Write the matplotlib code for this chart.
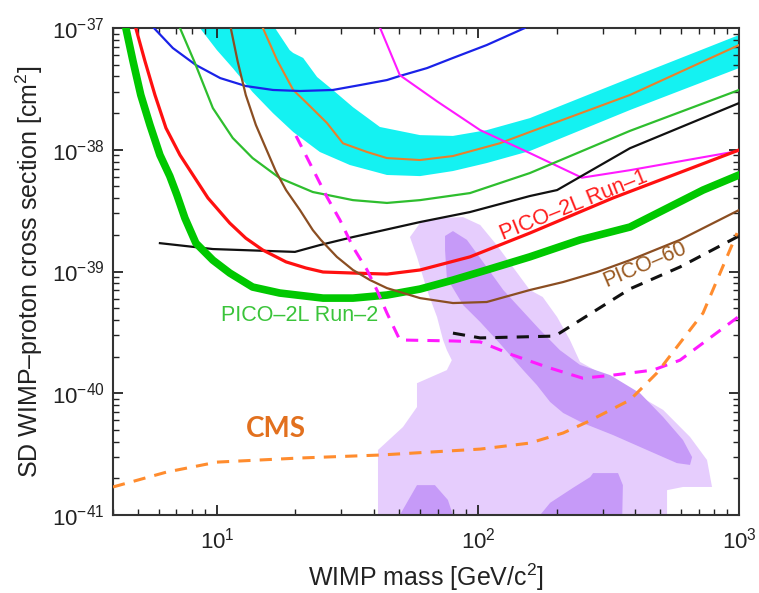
import matplotlib
matplotlib.use("Agg")
import matplotlib.pyplot as plt
from matplotlib.ticker import NullFormatter, FixedLocator

plt.rcParams['font.family'] = ['Liberation Sans', 'DejaVu Sans']
plt.rcParams['mathtext.fontset'] = 'custom'
plt.rcParams['mathtext.rm'] = 'Liberation Sans'
plt.rcParams['mathtext.it'] = 'Liberation Sans:italic'

# ---- data: WIMP mass [GeV] and cross section [cm^2] ----
band_low_m = [8.61, 10, 11.5, 13.7, 16.4, 19.6, 24.8, 32.3, 44.8, 60, 80.2, 108, 158, 382, 1000]
band_low_s = [1e-37, 6.59e-38, 4.69e-38, 2.98e-38, 2.0e-38, 1.4e-38, 9.59e-39, 7.5e-39,
              6.21e-39, 6.08e-39, 6.69e-39, 7.78e-39, 9.77e-39, 2.12e-38, 4.69e-38]
band_up_m = [16.7, 19.0, 19.6, 21.4, 24.2, 27.8, 33.2, 42.1, 60, 80.2, 108, 158, 382, 1000]
band_up_s = [1e-37, 6.59e-38, 6.24e-38, 5.68e-38, 3.96e-38, 3.1e-38, 2.24e-38, 1.54e-38,
             1.32e-38, 1.3e-38, 1.45e-38, 1.82e-38, 3.88e-38, 8.77e-38]

band_mid_m = [15.0, 17.0, 19.6, 22.1, 26.4, 30.4, 37.6, 44.8, 60, 80.2, 121, 158, 382, 1000]
band_mid_s = [1e-37, 5.46e-38, 3.1e-38, 2.42e-38, 1.66e-38, 1.13e-38, 9.59e-39, 8.55e-39,
              8.24e-39, 8.89e-39, 1.13e-38, 1.4e-38, 2.82e-38, 7.25e-38]

blue_m = [5.74, 6.78, 8.31, 10.3, 12.9, 16.4, 20.8, 27.8, 35.3, 44.8, 50.2, 63.8, 80.2, 108, 151]
blue_s = [1e-37, 6.85e-38, 4.97e-38, 3.88e-38, 3.34e-38, 3.1e-38, 3.04e-38, 3.1e-38,
          3.4e-38, 3.74e-38, 4.04e-38, 4.69e-38, 5.68e-38, 7.25e-38, 1e-37]

mag_m = [42.2, 50.2, 69.7, 102, 158, 250, 382, 1000]
mag_s = [1e-37, 4.1e-38, 2.5e-38, 1.45e-38, 9.4e-39, 5.9e-39, 6.8e-39, 9.8e-39]

green_thin_m = [7.22, 8.24, 9.65, 11.5, 13.7, 17.4, 23.3, 33.2, 44.8, 60, 93.2, 158, 382, 1000]
green_thin_s = [1e-37, 5.16e-38, 2.2e-38, 1.25e-38, 8.55e-39, 5.86e-39, 4.5e-39, 3.86e-39,
                3.66e-39, 3.86e-39, 4.41e-39, 6.44e-39, 1.43e-38, 3.1e-38]

black_m = [6.05, 9.65, 19.9, 24.8, 33.2, 60, 93.2, 158, 201, 382, 1000]
black_s = [1.71e-39, 1.53e-39, 1.45e-39, 1.65e-39, 1.92e-39, 2.55e-39, 3.08e-39, 4.17e-39,
           4.67e-39, 1.03e-38, 2.42e-38]

run1_m = [4.89, 5.30, 5.79, 6.38, 7.22, 8.24, 9.24, 11.2, 12.9, 15.0, 18.4, 21.9, 25.5,
          33.2, 44.8, 60, 93.2, 158, 329, 1000]
run1_s = [1e-37, 5.36e-38, 2.82e-38, 1.51e-38, 9.06e-39, 5.86e-39, 4.02e-39, 2.5e-39,
          1.88e-39, 1.5e-39, 1.2e-39, 1.07e-39, 9.91e-40, 9.72e-40, 9.53e-40, 1.03e-39,
          1.32e-39, 2.07e-39, 4.02e-39, 9.96e-39]

run2_m = [4.48, 4.77, 5.11, 5.54, 6.05, 6.60, 7.03, 7.54, 8.31, 9.65, 11.2, 13.7, 17.4,
          25.5, 33.2, 44.8, 60, 80.2, 108, 158, 246, 382, 728, 1000]
run2_s = [1e-37, 5.36e-38, 2.82e-38, 1.6e-38, 9.06e-39, 6.08e-39, 4.25e-39, 2.75e-39,
          1.71e-39, 1.24e-39, 9.72e-40, 7.46e-40, 6.66e-40, 6.05e-40, 6.05e-40, 6.41e-40,
          7.18e-40, 8.51e-40, 1.03e-39, 1.32e-39, 1.82e-39, 2.32e-39, 4.67e-39, 6.21e-39]

pico60_m = [11.3, 12.0, 12.9, 14.1, 15.4, 16.8, 18.4, 20.8, 23.3, 25.0, 28.8, 33.2, 38.6,
            44.8, 60, 80.2, 108, 158, 212, 286, 382, 594, 1000]
pico60_s = [1e-37, 5.36e-38, 2.82e-38, 1.6e-38, 1.03e-38, 6.69e-39, 4.67e-39, 3.2e-39,
            2.19e-39, 1.82e-39, 1.32e-39, 1.03e-39, 8.51e-40, 7.31e-40, 6.05e-40,
            5.51e-40, 5.62e-40, 7.05e-40, 8.2e-40, 9.91e-40, 1.24e-39, 1.82e-39, 3.2e-39]

magdash_m = [20.1, 26.4, 29.6, 33.2, 37.6, 41.0, 44.8, 50.2, 80.2, 102, 136, 184, 252,
             329, 468, 594, 991]
magdash_s = [1.3e-38, 4.09e-39, 2.65e-39, 1.59e-39, 1.03e-39, 7.05e-40, 4.56e-40, 2.74e-40,
             2.69e-40, 2.64e-40, 2.06e-40, 1.64e-40, 1.33e-40, 1.41e-40, 1.55e-40,
             1.87e-40, 4.23e-40]

blackdash_m = [80.2, 102, 197, 382, 594, 1000]
blackdash_s = [3.12e-40, 2.85e-40, 2.95e-40, 7.2e-40, 1.09e-39, 1.96e-39]

cms_m = [4.0, 6.4, 10, 20.8, 42.2, 102, 158, 212, 262, 382, 485, 594, 728, 983]
cms_s = [1.7e-41, 2.25e-41, 2.72e-41, 2.94e-41, 3.11e-41, 3.48e-41, 3.9e-41, 4.72e-41,
         5.81e-41, 8.8e-41, 1.47e-40, 2.59e-40, 4.56e-40, 2.07e-39]

# purple regions (outlines)
light_m = [54.9, 60, 69.7, 87.7, 102, 118, 136, 158, 177, 201, 225, 246, 293, 392, 512,
           649, 754, 788, 610, 530, 530, 41.4, 41.4, 51.6, 58.4, 58.4, 76, 79.4, 76,
           73.5, 69.7, 63.8, 58.4]
light_s = [1.92e-39, 2.5e-39, 2.75e-39, 2.8e-39, 2.41e-39, 1.65e-39, 1.09e-39, 7.05e-40,
           6.18e-40, 4.23e-40, 2.74e-40, 1.81e-40, 1.47e-40, 1.02e-40, 7.3e-41, 4.38e-41,
           2.83e-41, 1.7e-41, 1.7e-41, 1.6e-41, 1e-41, 1e-41, 3.42e-41, 5.28e-41,
           7.71e-41, 1.21e-40, 1.55e-40, 1.87e-40, 2.26e-40, 2.74e-40, 4.23e-40,
           7.05e-40, 1.32e-39]

dark_m = [74.8, 80.2, 90.7, 102, 125, 173, 206, 246, 321, 418, 512, 610, 661, 649, 578,
          444, 329, 252, 212, 189, 168, 149, 118, 102, 87.7, 76, 74.8]
dark_s = [1.96e-39, 2.15e-39, 1.82e-39, 1.29e-39, 7.05e-40, 3.31e-40, 2.26e-40, 1.71e-40,
          1.41e-40, 1.0e-40, 6.38e-41, 4.13e-41, 2.99e-41, 2.58e-41, 2.67e-41, 3.42e-41,
          4.54e-41, 5.7e-41, 6.89e-41, 8.48e-41, 1.17e-40, 1.55e-40, 2.74e-40, 3.85e-40,
          5.31e-40, 8.85e-40, 1.5e-39]

dark2_m = [50.2, 58.4, 68.4, 76.7, 80.2]
dark2_s = [1e-41, 1.76e-41, 1.76e-41, 1.33e-41, 1e-41]

dark3_m = [173, 189, 231, 269, 276, 344, 359, 357]
dark3_s = [1e-41, 1.26e-41, 1.67e-41, 2.05e-41, 2.21e-41, 2.21e-41, 1.76e-41, 1e-41]

x_major = [10, 100, 1000]
y_major = [1e-41, 1e-40, 1e-39, 1e-38, 1e-37]

fig = plt.figure(figsize=(7.59, 5.93), dpi=100)
ax = fig.add_axes([0.1489, 0.1315, 0.8248, 0.8212])
ax.set_xscale('log')
ax.set_yscale('log')

# regions
ax.fill(light_m, light_s, color='#E6CDFD', lw=0, zorder=1)
ax.fill(dark_m, dark_s, color='#C69AF8', lw=0, zorder=1.1)
ax.fill(dark2_m, dark2_s, color='#C69AF8', lw=0, zorder=1.1)
ax.fill(dark3_m, dark3_s, color='#C69AF8', lw=0, zorder=1.1)
ax.fill(band_low_m + band_up_m[::-1], band_low_s + band_up_s[::-1],
        color='#14F2F2', lw=0, zorder=1.5)

# curves
ax.plot(band_mid_m, band_mid_s, color='#E8802C', lw=1.5, zorder=3)
ax.plot(blue_m, blue_s, color='#1A22E8', lw=1.6, zorder=3)
ax.plot(mag_m, mag_s, color='#FF1AFF', lw=1.5, zorder=3)
ax.plot(green_thin_m, green_thin_s, color='#2EBE2E', lw=1.6, zorder=3)
ax.plot(black_m, black_s, color='#111111', lw=1.6, zorder=3)
ax.plot(run1_m, run1_s, color='#FF1010', lw=2.3, zorder=3)
ax.plot(run2_m, run2_s, color='#00C800', lw=5.5, zorder=3)
ax.plot(pico60_m, pico60_s, color='#8B4E22', lw=1.6, zorder=3)
ax.plot(magdash_m, magdash_s, color='#FF1AFF', lw=2.2, dashes=(4, 3), zorder=3)
ax.plot(blackdash_m, blackdash_s, color='#111111', lw=2.2, dashes=(4, 3), zorder=3)
ax.plot(cms_m, cms_s, color='#FF8C2E', lw=2.2, dashes=(4, 3), zorder=3)

# labels inside
ax.text(233, 3.52e-39, 'PICO–2L Run–1', color='#FF1A1A', fontsize=15.5,
        rotation=22, rotation_mode='anchor', ha='center', va='center', zorder=5)
ax.text(437, 1.13e-39, 'PICO–60', color='#9A5A22', fontsize=15.5,
        rotation=23, rotation_mode='anchor', ha='center', va='center', zorder=5)
ax.text(20.8, 4.39e-40, 'PICO–2L Run–2', color='#3AC43A', fontsize=15.5,
        ha='center', va='center', zorder=5)
ax.text(16.8, 5.08e-41, 'CMS', color='#E2701E', fontsize=20, fontweight='bold',
        family=['Lato', 'DejaVu Sans'], ha='center', va='center', zorder=5)

ax.set_xlim(4, 1000)
ax.set_ylim(1e-41, 1e-37)

# fixed ticks so no labels exist outside the axes range
ax.xaxis.set_major_locator(FixedLocator(x_major))
ax.yaxis.set_major_locator(FixedLocator(y_major))
ax.xaxis.set_minor_locator(FixedLocator([k * d for d in [1, 10, 100] for k in range(2, 10)
                                         if 4 <= k * d < 1000]))
ax.yaxis.set_minor_locator(FixedLocator([k * d for d in y_major[:-1] for k in range(2, 10)]))
ax.xaxis.set_minor_formatter(NullFormatter())
ax.yaxis.set_minor_formatter(NullFormatter())

ax.tick_params(which='both', direction='in', top=True, right=True, colors='#222222',
               labelsize=16)
ax.tick_params(which='major', length=7, width=1.3)
ax.tick_params(which='minor', length=4, width=1.0)
ax.tick_params(axis='x', which='major', pad=9)
ax.tick_params(axis='y', which='major', pad=6)
for sp in ax.spines.values():
    sp.set_linewidth(1.5)
    sp.set_color('#333333')

ax.set_xlabel('WIMP mass [GeV/c$^2$]', fontsize=18, color='#222222')
ax.set_ylabel('SD WIMP–proton cross section [cm$^2$]', fontsize=18, color='#222222')
ax.xaxis.set_label_coords(0.5, -0.095)
ax.yaxis.set_label_coords(-0.108, 0.5)

fig.savefig('out.png', dpi=100)
